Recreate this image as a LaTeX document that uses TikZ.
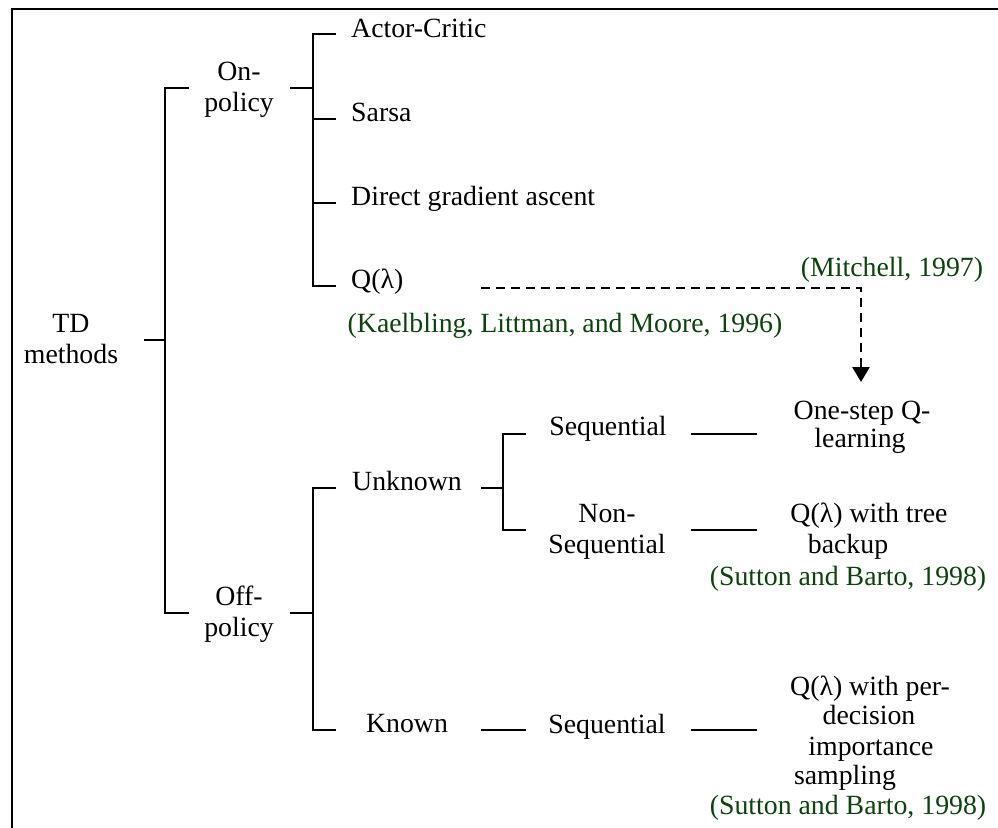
\documentclass[tikz,border=0pt]{standalone}
\usepackage{fontspec}
\setmainfont{Liberation Serif}
\newfontfamily\tnrfont{Liberation Serif}
\usetikzlibrary{arrows.meta}
\definecolor{citegreen}{RGB}{14,66,14}
\begin{document}
\begin{tikzpicture}[x=1pt,y=-1pt,
  lbl/.style={inner sep=0pt, anchor=base, font=\tnrfont\fontsize{27.8}{31}\selectfont},
  lblw/.style={lbl, anchor=base west},
  cite/.style={lbl, text=citegreen},
  conn/.style={line width=2.6pt, line cap=rect},
  dashconn/.style={line width=2.6pt, dash pattern=on 9pt off 6pt, -{Triangle[width=17pt,length=15pt]}}]
\useasboundingbox (0,0) rectangle (998,827);
\fill[white] (0,0) rectangle (998,827);
\begin{scope}
\clip (0,0) rectangle (998,827);
\draw[line width=2.6pt] (12,840) -- (12,9) -- (1010,9);
\end{scope}

% texts
\node[lbl] (td1) at (71,332) {TD};
\node[lbl] (td2) at (71,363) {methods};
\node[lbl] (on1) at (239,80) {On-};
\node[lbl] (on2) at (239,111) {policy};
\node[lbl] (off1) at (239,605) {Off-};
\node[lbl] (off2) at (239,636) {policy};
\node[lblw] (ac) at (351,37) {Actor-Critic};
\node[lblw] (sarsa) at (351,121) {Sarsa};
\node[lblw] (dga) at (351,205) {Direct gradient ascent};
\node[lblw] (qlam) at (351,288) {Q(λ)};
\node[cite] (kael) at (565,332) {(Kaelbling, Littman, and Moore, 1996)};
\node[cite] (mitch) at (892,276) {(Mitchell, 1997)};
\node[lbl] (unk) at (407,490) {Unknown};
\node[lbl] (kn) at (407,732) {Known};
\node[lbl] (seq1) at (608,435) {Sequential};
\node[lbl] (nseq1) at (607,522) {Non-};
\node[lbl] (nseq2) at (607,553) {Sequential};
\node[lbl] (seq2) at (607,733) {Sequential};
\node[lbl] (os1) at (862,419) {One-step Q-};
\node[lbl] (os2) at (860,447) {learning};
\node[lbl] (tb1) at (869,522) {Q(λ) with tree};
\node[lbl] (tb2) at (848,553) {backup};
\node[cite] (sb1) at (848,585) {(Sutton and Barto, 1998)};
\node[lbl] (pd1) at (870,695) {Q(λ) with per-};
\node[lbl] (pd2) at (869,724) {decision};
\node[lbl] (pd3) at (871,755) {importance};
\node[lbl] (pd4) at (845,784) {sampling};
\node[cite] (sb2) at (848,814) {(Sutton and Barto, 1998)};

% bracket junctions
\coordinate (tdS) at (145,340);  \coordinate (tdV) at (165,340);
\coordinate (tdT) at (165,88);   \coordinate (tdB) at (165,613);
\coordinate (tdTe) at (188,88);  \coordinate (tdBe) at (188,613);
\coordinate (onS) at (291,88);   \coordinate (onV) at (313,88);
\coordinate (onT) at (313,34);   \coordinate (onB) at (313,286);
\coordinate (acE) at (335,34);   \coordinate (saE) at (335,119);
\coordinate (dgE) at (335,203);  \coordinate (qlE) at (335,286);
\coordinate (onSa) at (313,119); \coordinate (onDg) at (313,203);
\coordinate (offS) at (291,613); \coordinate (offV) at (313,613);
\coordinate (offT) at (313,488); \coordinate (offB) at (313,730);
\coordinate (unE) at (335,488);  \coordinate (knE) at (335,730);
\coordinate (unS) at (482,488);  \coordinate (unV) at (503,488);
\coordinate (unT) at (503,434);  \coordinate (unB) at (503,530);
\coordinate (seqE) at (525,434); \coordinate (nseqE) at (525,530);
\coordinate (knS) at (482,730);  \coordinate (knSe) at (525,730);
\coordinate (l1a) at (692,434);  \coordinate (l1b) at (756,434);
\coordinate (l2a) at (692,530);  \coordinate (l2b) at (756,530);
\coordinate (l3a) at (692,730);  \coordinate (l3b) at (756,730);
\coordinate (dashA) at (481,288); \coordinate (dashB) at (861,382);

\draw[conn] (tdS) -- (tdV);
\draw[conn] (tdTe) -- (tdT) -- (tdB) -- (tdBe);
\draw[conn] (onS) -- (onV);
\draw[conn] (acE) -- (onT) -- (onB) -- (qlE);
\draw[conn] (onSa) -- (saE);
\draw[conn] (onDg) -- (dgE);
\draw[conn] (offS) -- (offV);
\draw[conn] (unE) -- (offT) -- (offB) -- (knE);
\draw[conn] (unS) -- (unV);
\draw[conn] (seqE) -- (unT) -- (unB) -- (nseqE);
\draw[conn] (knS) -- (knSe);
\draw[conn] (l1a) -- (l1b);
\draw[conn] (l2a) -- (l2b);
\draw[conn] (l3a) -- (l3b);
\draw[dashconn] (dashA) -| (dashB);
\end{tikzpicture}
\end{document}
